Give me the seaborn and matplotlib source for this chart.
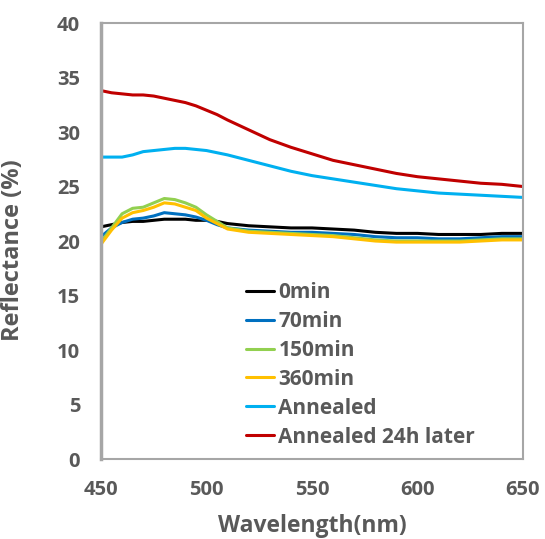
import matplotlib
matplotlib.use("Agg")
import matplotlib.pyplot as plt
import seaborn as sns
import pandas as pd

wavelength = [450, 455, 460, 465, 470, 475, 480, 485, 490, 495, 500, 505, 510,
              520, 530, 540, 550, 560, 570, 580, 590, 600, 610, 620, 630, 640, 650]

r_0min = [21.3, 21.5, 21.7, 21.8, 21.8, 21.9, 22.0, 22.0, 22.0, 21.9, 21.9, 21.8, 21.6,
          21.4, 21.3, 21.2, 21.2, 21.1, 21.0, 20.8, 20.7, 20.7, 20.6, 20.6, 20.6, 20.7, 20.7]
r_70min = [20.4, 21.2, 21.7, 22.0, 22.1, 22.3, 22.6, 22.5, 22.4, 22.2, 21.9, 21.5, 21.2,
           21.0, 20.9, 20.8, 20.8, 20.7, 20.6, 20.4, 20.3, 20.3, 20.2, 20.2, 20.3, 20.4, 20.4]
r_150min = [19.9, 21.2, 22.5, 23.0, 23.1, 23.5, 23.9, 23.8, 23.5, 23.1, 22.4, 21.8, 21.2,
            20.9, 20.8, 20.7, 20.6, 20.5, 20.3, 20.1, 20.0, 20.0, 20.0, 20.0, 20.1, 20.2, 20.2]
r_360min = [19.7, 21.0, 22.1, 22.6, 22.8, 23.1, 23.5, 23.4, 23.1, 22.8, 22.1, 21.6, 21.1,
            20.8, 20.7, 20.6, 20.5, 20.4, 20.2, 20.0, 19.9, 19.9, 19.9, 19.9, 20.0, 20.1, 20.1]
r_annealed = [27.7, 27.7, 27.7, 27.9, 28.2, 28.3, 28.4, 28.5, 28.5, 28.4, 28.3, 28.1, 27.9,
              27.4, 26.9, 26.4, 26.0, 25.7, 25.4, 25.1, 24.8, 24.6, 24.4, 24.3, 24.2, 24.1, 24.0]
r_annealed24 = [33.8, 33.6, 33.5, 33.4, 33.4, 33.3, 33.1, 32.9, 32.7, 32.4, 32.0, 31.6, 31.1,
                30.2, 29.3, 28.6, 28.0, 27.4, 27.0, 26.6, 26.2, 25.9, 25.7, 25.5, 25.3, 25.2, 25.0]

series_names = ["0min", "70min", "150min", "360min", "Annealed", "Annealed 24h later"]
series_values = [r_0min, r_70min, r_150min, r_360min, r_annealed, r_annealed24]
colors = ["#000000", "#0070C0", "#92D050", "#FFC000", "#00B0F0", "#C00000"]

x_ticks = [450, 500, 550, 600, 650]
y_ticks = [0, 5, 10, 15, 20, 25, 30, 35, 40]

rows = []
for name, vals in zip(series_names, series_values):
    for w, v in zip(wavelength, vals):
        rows.append({"Wavelength": w, "Reflectance": v, "Sample": name})
df = pd.DataFrame(rows)

sns.set_theme(style="white")
plt.rcParams["font.family"] = ["Open Sans", "DejaVu Sans"]
plt.rcParams["font.weight"] = "bold"

fig = plt.figure(figsize=(5.45, 5.39), dpi=100)
ax = fig.add_axes([0.1853, 0.1484, 0.7743, 0.8089])

sns.lineplot(data=df, x="Wavelength", y="Reflectance", hue="Sample",
             hue_order=series_names, palette=dict(zip(series_names, colors)),
             linewidth=2.2, ax=ax, legend=True)

ax.set_xlim(450, 650)
ax.set_ylim(0, 40)
ax.set_xticks(x_ticks)
ax.set_yticks(y_ticks)
text_color = "#595959"
ax.tick_params(axis="x", length=0, labelsize=14.5, labelcolor=text_color, pad=15)
ax.tick_params(axis="y", length=0, labelsize=14.5, labelcolor=text_color, pad=15)
for lab in ax.get_xticklabels() + ax.get_yticklabels():
    lab.set_fontweight("bold")
ax.set_xlabel("Wavelength(nm)", fontsize=16.5, fontweight="bold", color=text_color, labelpad=10)
ax.set_ylabel("Reflectance (%)", fontsize=17, fontweight="bold", color=text_color)
ax.yaxis.set_label_coords(-0.18, 0.479)

for side in ["left", "right", "top", "bottom"]:
    ax.spines[side].set_visible(True)
    ax.spines[side].set_color("#A6A6A6")
    ax.spines[side].set_linewidth(1.5)
ax.spines["left"].set_linewidth(2.5)

leg = ax.legend(loc="upper left", bbox_to_anchor=(0.344, 0.406), frameon=False,
                fontsize=15, handlelength=1.35, handletextpad=0.2, labelspacing=0.38,
                borderpad=0, borderaxespad=0)
for t in leg.get_texts():
    t.set_color(text_color)
    t.set_fontweight("bold")
for h in leg.get_lines():
    h.set_linewidth(2.2)

fig.savefig("out.png", dpi=100)
